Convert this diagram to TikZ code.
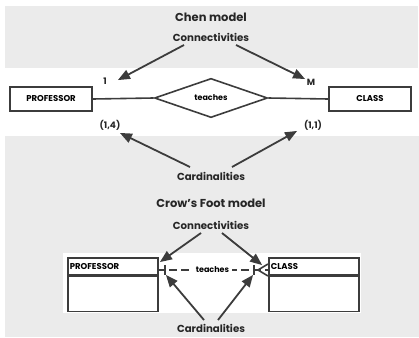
\documentclass[tikz,border=0pt]{standalone}
\usepackage{fontspec}
\setmainfont{Poppins}
\usetikzlibrary{shapes,arrows,positioning}
\definecolor{bandgray}{HTML}{EBEBEB}
\definecolor{inkgray}{HTML}{3C3C3C}
\tikzset{%
  entity/.style   = {draw=inkgray, line width=1.6pt, rectangle, minimum width=82pt,
    minimum height=24pt, inner sep=1pt, font=\bfseries\fontsize{8.5}{10}\selectfont},
  relation/.style = {draw=inkgray, line width=1.6pt, diamond, minimum width=113pt,
    minimum height=35pt, inner sep=0pt, font=\bfseries\fontsize{8}{9}\selectfont},
  heading/.style  = {font=\bfseries\fontsize{11.5}{13}\selectfont, text=black!85}, % model names
  caption/.style  = {font=\bfseries\fontsize{10.2}{12}\selectfont, text=black!85},
  marktext/.style = {font=\bfseries\fontsize{9}{10}\selectfont, text=black!85},
  tablehead/.style = {draw=inkgray, line width=1.6pt, rectangle, anchor=north west,
    minimum width=90pt, minimum height=17pt, text width=86pt, align=left,
    inner sep=1pt, font=\bfseries\fontsize{8.5}{10}\selectfont},
  tablebody/.style = {draw=inkgray, line width=1.6pt, rectangle, minimum width=90pt,
    minimum height=35pt},
  pointer/.style  = {->, draw=inkgray, line width=1.8pt},
  link/.style     = {draw=inkgray, line width=1.6pt}
}
\begin{document}
\begin{tikzpicture}[x=1pt, y=-1pt, >=triangle 45]
\useasboundingbox (0,0) rectangle (419,337);
% background bands
\fill[bandgray] (5,6) rectangle (418,68);
\fill[bandgray] (5,136) rectangle (419,337);
\fill[white] (63,253) rectangle (361,313);

% Chen model
\node[heading] (chenTitle) at (211,17) {Chen model};
\node[caption] (chenConn) at (211,37) {Connectivities};
\node[entity] (chenProf) at (51,99) {PROFESSOR};
\node[entity] (chenClass) at (370,99) {CLASS};
\node[relation] (chenTeach) at (211,98) {teaches};
\draw[link] (chenProf.east) -- (chenTeach.west);
\draw[link] (chenTeach.east) -- (chenClass.west);
\node[marktext] (connOne) at (105,81) {1};
\node[marktext] (connMany) at (311,82) {M};
\node[marktext] (cardProf) at (110,125) {(1,4)};
\node[marktext] (cardClass) at (313,125) {(1,1)};
\node[caption] (chenCard) at (211,176) {Cardinalities};
\coordinate (cc1) at (184,45);  \coordinate (ct1) at (118,80);
\coordinate (cc2) at (236,45);  \coordinate (ct2) at (305,79);
\coordinate (cd1) at (190,167); \coordinate (cp1) at (120,133);
\coordinate (cd2) at (232,167); \coordinate (cp2) at (297,131);
\draw[pointer] (cc1) -- (ct1);
\draw[pointer] (cc2) -- (ct2);
\draw[pointer] (cd1) -- (cp1);
\draw[pointer] (cd2) -- (cp2);

% Crow's Foot model
\node[heading] (crowTitle) at (211,203) {Crow’s Foot model};
\node[caption] (crowConn) at (211,225) {Connectivities};
\node[tablehead] (profHead) at (67,257) {PROFESSOR};
\node[tablebody, below=0pt of profHead] (profBody) {};
\node[tablehead] (classHead) at (268,257) {CLASS};
\node[tablebody, below=0pt of classHead] (classBody) {};
\coordinate (profEdge) at (157,270);
\coordinate (classEdge) at (268,270);
\draw[link, dash pattern=on 8pt off 4pt] (profEdge) -- node[fill=white, inner sep=3pt,
  font=\bfseries\fontsize{8}{9}\selectfont]{teaches} (classEdge);
\draw[link] (165,265) -- (165,275);
\draw[link] (254,265) -- (254,275);
\draw[link] (268,264) -- (258,270) -- (268,276);
\node[caption] (crowCard) at (211,328) {Cardinalities};
\coordinate (fc1) at (201,233); \coordinate (ft1) at (160,262);
\coordinate (fc2) at (222,233); \coordinate (ft2) at (262,265);
\coordinate (fd1) at (204,320); \coordinate (fp1) at (166,275);
\coordinate (fd2) at (218,320); \coordinate (fp2) at (253,275);
\draw[pointer] (fc1) -- (ft1);
\draw[pointer] (fc2) -- (ft2);
\draw[pointer] (fd1) -- (fp1);
\draw[pointer] (fd2) -- (fp2);
\end{tikzpicture}
\end{document}
